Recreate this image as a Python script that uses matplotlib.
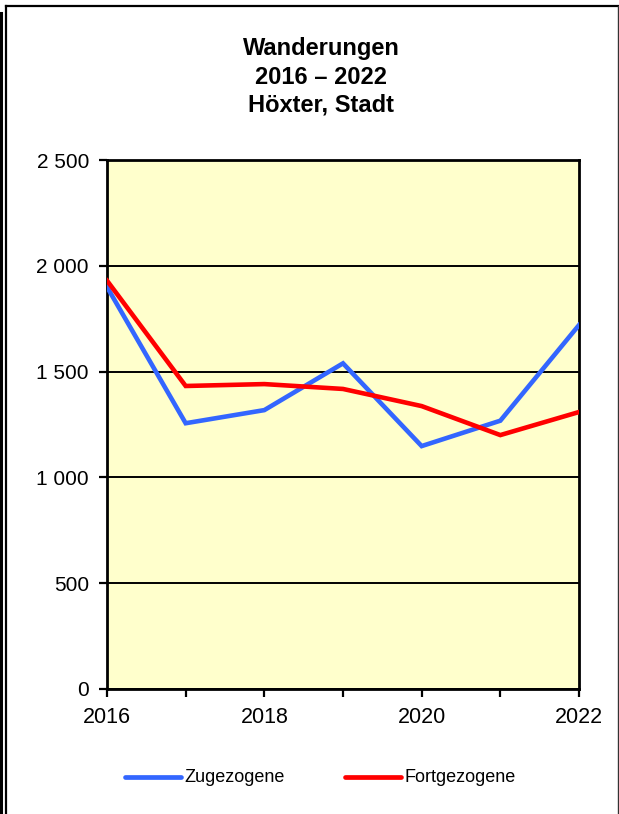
import matplotlib
matplotlib.use("Agg")
import matplotlib.pyplot as plt
from matplotlib.lines import Line2D

years = [2016, 2017, 2018, 2019, 2020, 2021, 2022]
zugezogene = [1900, 1256, 1318, 1539, 1148, 1268, 1720]
fortgezogene = [1930, 1432, 1441, 1418, 1337, 1200, 1309]
yticks = [0, 500, 1000, 1500, 2000, 2500]
ytick_labels = ["0", "500", "1 000", "1 500", "2 000", "2 500"]
xtick_labels = ["2016", "", "2018", "", "2020", "", "2022"]
series_names = ["Zugezogene", "Fortgezogene"]
series_colors = ["#3366FF", "#FF0000"]
title = "Wanderungen\n2016 \u2013 2022\nHöxter, Stadt"

plt.rcParams['font.family'] = ['Liberation Sans', 'DejaVu Sans']

W, H = 619, 814
fig = plt.figure(figsize=(W/100, H/100), dpi=100)

def fx(px): return px / W
def fy(py): return 1 - py / H

# outer frame
fig.add_artist(Line2D([fx(1.3), fx(1.3)], [fy(13), fy(814)], color='black', lw=2.2))
fig.add_artist(Line2D([fx(6), fx(6)], [fy(5.5), fy(814)], color='black', lw=1.6))
fig.add_artist(Line2D([fx(6), fx(618)], [fy(6), fy(6)], color='black', lw=1.6))
fig.add_artist(Line2D([fx(617.5), fx(617.5)], [fy(6), fy(814)], color='#333333', lw=1.0))

ax = fig.add_axes([fx(107), fy(689), fx(579) - fx(107), fy(160) - fy(689)])
ax.set_facecolor('#FFFFCC')
for vals, name, col in zip([zugezogene, fortgezogene], series_names, series_colors):
    ax.plot(years, vals, color=col, lw=3.3, label=name, solid_joinstyle='miter', zorder=3)
ax.set_xlim(2016, 2022)
ax.set_ylim(0, 2500)
ax.set_yticks(yticks)
ax.set_yticklabels(ytick_labels, fontsize=15)
ax.set_xticks(years)
ax.set_xticklabels(xtick_labels, fontsize=15.5)
ax.tick_params(axis='both', direction='out', length=6, width=1.6, color='black')
ax.tick_params(axis='y', pad=7)
ax.tick_params(axis='x', pad=7)
ax.grid(axis='y', color='black', lw=1.4, zorder=1)
ax.set_axisbelow(True)
for s in ax.spines.values():
    s.set_linewidth(2)
    s.set_color('black')

fig.text(fx(321), fy(77), title, ha='center', va='center', fontsize=17,
         fontweight='bold', linespacing=1.3)

# legend drawn manually
leg_y = fy(777)
for (x0, x1), name, col in zip([(125, 181), (345, 401)], series_names, series_colors):
    fig.add_artist(Line2D([fx(x0), fx(x1)], [leg_y, leg_y], color=col, lw=3.4,
                          solid_capstyle='round'))
    fig.text(fx(x1 + 3), leg_y, name, ha='left', va='center', fontsize=13)

fig.savefig('out.png', dpi=100)
